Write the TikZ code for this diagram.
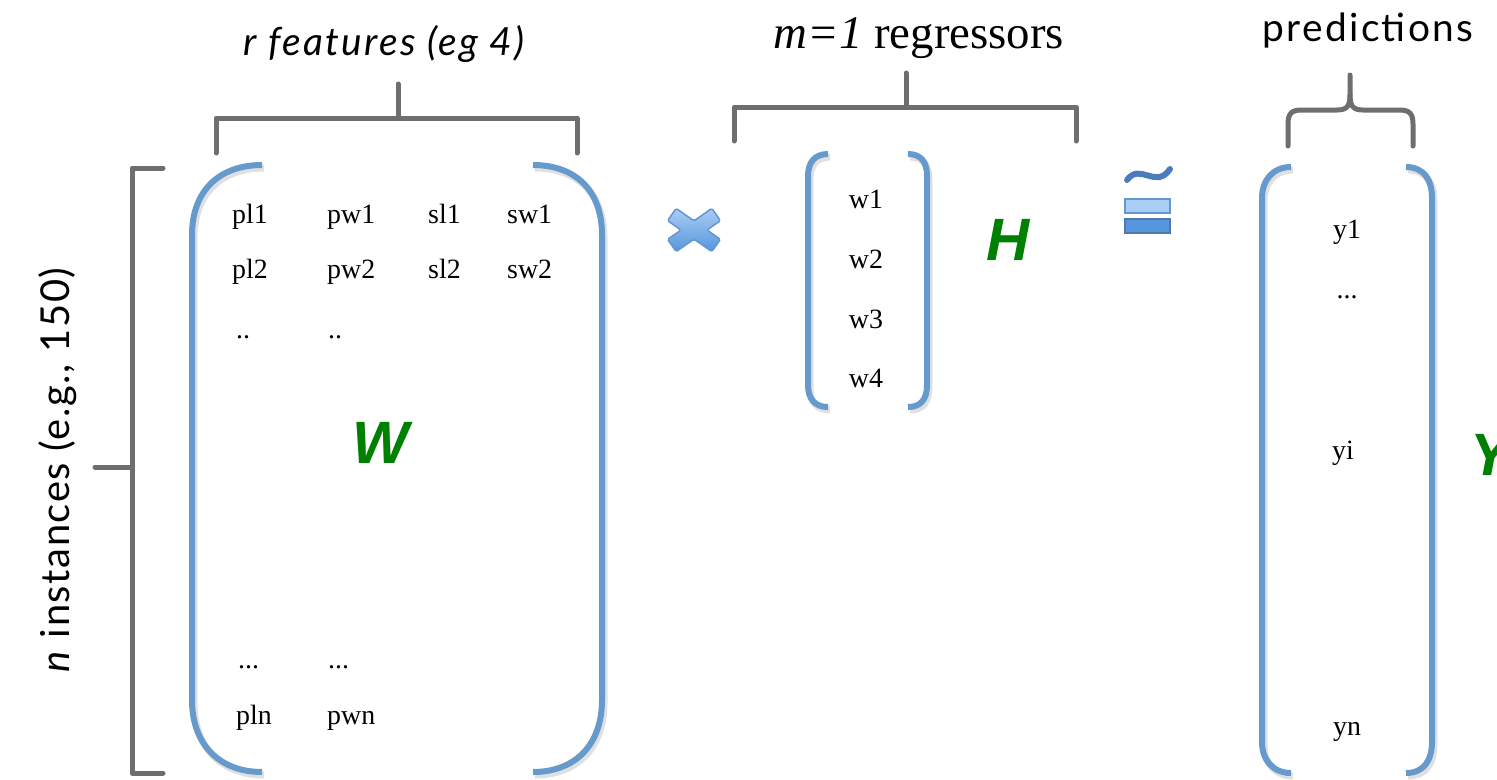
\documentclass[tikz,border=0pt]{standalone}
\usepackage{fontspec}
\setmainfont{Liberation Serif}
\newfontfamily\gill{Lato}[LetterSpace=6]
\newfontfamily\gillv{Lato}[LetterSpace=4]
\newfontfamily\arialf{Liberation Sans}
\definecolor{brk}{RGB}{110,110,110}
\definecolor{par}{RGB}{102,153,204}
\definecolor{grn}{RGB}{0,128,0}
\definecolor{xline}{RGB}{100,150,210}
\definecolor{xtop}{RGB}{170,205,245}
\definecolor{xbot}{RGB}{85,150,220}
\definecolor{tild}{RGB}{75,125,190}
\tikzset{
  bracket/.style={draw=brk, line width=5bp, line cap=round, line join=round},
  paren/.style={draw=par, line width=6bp},
  pshadow/.style={draw=black, opacity=0.12, line width=7bp},
  cell/.style={inner sep=0pt, font=\fontsize{28}{32}\selectfont},
  cellw/.style={cell, anchor=base west},
  cellc/.style={cell, anchor=base},
  title/.style={inner sep=0pt, anchor=base},
  big/.style={inner sep=0pt, text=grn, font=\arialf\bfseries\itshape\fontsize{60}{66}\selectfont}
}
\begin{document}
\begin{tikzpicture}[x=1bp, y=-1bp]
\useasboundingbox (0,0) rectangle (1497,779);
% ---- titles
\node[title, font=\gill\itshape\fontsize{39}{44}\selectfont] (tr) at (384,56) {r features (eg 4)};
\node[title, font=\fontsize{47}{52}\selectfont] (tm) at (919,49) {\textit{m=1} regressors};
\node[title, font=\gill\fontsize{39}{44}\selectfont] (tp) at (1368,42) {predictions};
\node[inner sep=0pt, anchor=base, rotate=90, font=\gillv\fontsize{40}{46}\selectfont] (tn) at (69,470) {\textit{n} instances (e.g., 150)};
% ---- gray brackets
\draw[bracket] (216,153) -- (216,118) -- (577,118) -- (577,153);
\draw[bracket] (398,118) -- (398,84);
\draw[bracket] (734,141) -- (734,107) -- (1076,107) -- (1076,141);
\draw[bracket] (906,107) -- (906,73);
\draw[bracket] (163,168) -- (132,168) -- (132,773) -- (163,773);
\draw[bracket] (132,467) -- (95,467);
\draw[bracket] (1288,146) -- (1288,124) .. controls (1288,113) and (1292,110) .. (1302,110) -- (1337,110) .. controls (1347,110) and (1350,106) .. (1350,95) -- (1350,75);
\draw[bracket] (1413,146) -- (1413,124) .. controls (1413,113) and (1409,110) .. (1399,110) -- (1363,110) .. controls (1353,110) and (1350,106) .. (1350,95);
% ---- blue parentheses (with faint shadow)
\begin{scope}[shift={(2,3)}]
\draw[pshadow] (262,165) .. controls (220,165) and (192,190) .. (192,235) -- (192,700) .. controls (192,745) and (220,772) .. (262,772);
\draw[pshadow] (533,165) .. controls (575,165) and (602,190) .. (602,235) -- (602,700) .. controls (602,745) and (575,772) .. (533,772);
\draw[pshadow] (828,154) .. controls (815,154) and (808,162) .. (808,176) -- (808,385) .. controls (808,399) and (815,407) .. (828,407);
\draw[pshadow] (908,154) .. controls (921,154) and (927,162) .. (927,176) -- (927,385) .. controls (927,399) and (921,407) .. (908,407);
\draw[pshadow] (1291,167) .. controls (1273,167) and (1262,180) .. (1262,198) -- (1262,742) .. controls (1262,760) and (1273,773) .. (1291,773);
\draw[pshadow] (1406,167) .. controls (1424,167) and (1432,180) .. (1432,198) -- (1432,742) .. controls (1432,760) and (1424,773) .. (1406,773);
\end{scope}
\draw[paren] (262,165) .. controls (220,165) and (192,190) .. (192,235) -- (192,700) .. controls (192,745) and (220,772) .. (262,772);
\draw[paren] (533,165) .. controls (575,165) and (602,190) .. (602,235) -- (602,700) .. controls (602,745) and (575,772) .. (533,772);
\draw[paren] (828,154) .. controls (815,154) and (808,162) .. (808,176) -- (808,385) .. controls (808,399) and (815,407) .. (828,407);
\draw[paren] (908,154) .. controls (921,154) and (927,162) .. (927,176) -- (927,385) .. controls (927,399) and (921,407) .. (908,407);
\draw[paren] (1291,167) .. controls (1273,167) and (1262,180) .. (1262,198) -- (1262,742) .. controls (1262,760) and (1273,773) .. (1291,773);
\draw[paren] (1406,167) .. controls (1424,167) and (1432,180) .. (1432,198) -- (1432,742) .. controls (1432,760) and (1424,773) .. (1406,773);
% ---- W matrix entries
\node[cellw] (a11) at (232,223) {pl1};
\node[cellw] (a12) at (327,223) {pw1};
\node[cellw] (a13) at (428,223) {sl1};
\node[cellw] (a14) at (507,223) {sw1};
\node[cellw] (a21) at (232,278) {pl2};
\node[cellw] (a22) at (327,278) {pw2};
\node[cellw] (a23) at (428,278) {sl2};
\node[cellw] (a24) at (507,278) {sw2};
\node[cellw] (a31) at (236,338) {..};
\node[cellw] (a32) at (328,338) {..};
\node[cellw] (a41) at (238,668) {...};
\node[cellw] (a42) at (328,668) {...};
\node[cellw] (a51) at (236,724) {pln};
\node[cellw] (a52) at (327,724) {pwn};
\node[big] (W) at (381,443) {W};
% ---- H vector
\node[cellc] (h1) at (866,208) {w1};
\node[cellc] (h2) at (866,268) {w2};
\node[cellc] (h3) at (866,328) {w3};
\node[cellc] (h4) at (866,387) {w4};
\node[big] (H) at (1008,240) {H};
% ---- Y vector
\node[cellc] (y1) at (1347,238) {y1};
\node[cellc] (y2) at (1347,298) {...};
\node[cellc] (yi) at (1343,459) {yi};
\node[cellc] (yn) at (1347,735) {yn};
\node[big, anchor=west] (Y) at (1470,455) {Y};
% ---- multiplication sign
\begin{scope}[shift={(694,230)}]
\filldraw[draw=xline, line width=1.5bp, rounded corners=1.5bp, top color=xtop, bottom color=xbot]
 (0,-9.15) -- (17.82,-21.63) -- (26.42,-9.35) -- (13.06,0) -- (26.42,9.35) -- (17.82,21.63)
 -- (0,9.15) -- (-17.82,21.63) -- (-26.42,9.35) -- (-13.06,0) -- (-26.42,-9.35) -- (-17.82,-21.63) -- cycle;
\end{scope}
% ---- approx-equal sign
\draw[draw=tild, line width=6bp, line cap=round] (1127,180) .. controls (1140,162) and (1156,190) .. (1170,169);
\filldraw[draw=xline, line width=1.5bp, fill=xtop] (1125,199) rectangle (1170,213);
\filldraw[draw=xline!80!black, line width=1.5bp, fill=xbot] (1125,219) rectangle (1170,233);
\end{tikzpicture}
\end{document}
